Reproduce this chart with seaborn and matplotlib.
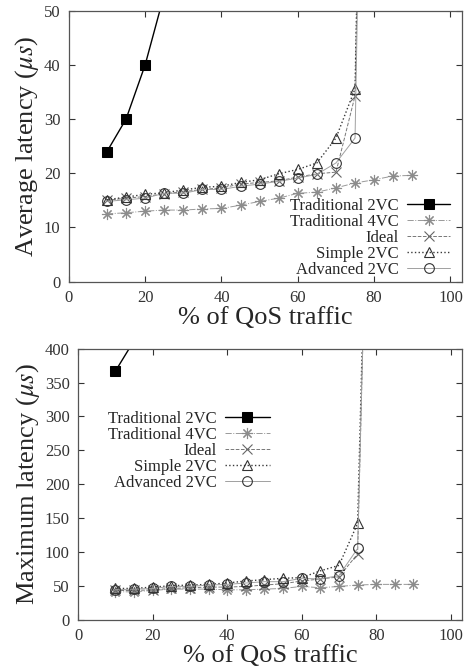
import matplotlib
matplotlib.use("Agg")
import matplotlib.pyplot as plt
import seaborn as sns
import pandas as pd

# ---------------- data ----------------
x_trad2_avg = [10, 15, 20, 25]
x_trad2_max = [10, 15]
x_4vc = [10, 15, 20, 25, 30, 35, 40, 45, 50, 55, 60, 65, 70, 75, 80, 85, 90]
x_main = [10, 15, 20, 25, 30, 35, 40, 45, 50, 55, 60, 65, 70, 75, 80]

avg_trad2 = [24.0, 30.0, 40.0, 53.0]
avg_trad4 = [12.5, 12.7, 13.0, 13.2, 13.2, 13.4, 13.5, 14.1, 14.8, 15.4, 16.3, 16.5, 17.3, 18.2, 18.8, 19.5, 19.6]
avg_ideal = [15.0, 15.4, 15.7, 16.2, 16.6, 17.0, 17.3, 18.0, 18.3, 18.6, 19.3, 19.9, 20.2, 34.3, 220.0]
avg_simple = [15.1, 15.6, 16.1, 16.4, 16.9, 17.4, 17.6, 18.3, 18.8, 19.9, 20.7, 21.9, 26.5, 35.6, 220.0]
avg_adv = [14.8, 15.1, 15.4, 16.3, 16.3, 17.0, 17.0, 17.6, 18.0, 18.5, 19.1, 19.8, 21.9, 26.5, 220.0]

max_trad2 = [367.0, 412.0]
max_trad4 = [41, 41, 43, 45, 45, 45, 44, 44, 45, 46, 49, 47, 49, 51, 52, 52, 52]
max_ideal = [43, 43, 44, 46, 47, 48, 48, 49, 51, 53, 57, 60, 63, 97, 1200]
max_simple = [46, 46, 48, 50, 51, 52, 54, 57, 59, 61, 62, 72, 80, 142, 1200]
max_adv = [44, 45, 46, 49, 49, 51, 52, 54, 56, 56, 61, 60, 65, 105, 1200]

labels = ["Traditional 2VC", "Traditional 4VC", "Ideal", "Simple 2VC", "Advanced 2VC"]

# ---------------- style ----------------
sns.set_style("ticks")
plt.rcParams["font.family"] = ["Liberation Serif", "DejaVu Serif"]
plt.rcParams["mathtext.fontset"] = "stix"

styles = {
    "Traditional 2VC": dict(color="black", linestyle="-", marker="s", markersize=7,
                            mfc="black", mec="black", lw=1.0),
    "Traditional 4VC": dict(color="#999999", linestyle="-.", marker=(8, 2, 0), markersize=8,
                            mec="#8c8c8c", lw=0.7, mew=0.8),
    "Ideal": dict(color="#777777", linestyle="--", marker="x", markersize=7,
                  mec="#666666", lw=0.7, mew=0.8, dashes=(3, 2)),
    "Simple 2VC": dict(color="#3a3a3a", linestyle=":", marker="^", markersize=6.5,
                       mfc="none", mec="#333333", lw=1.0, mew=0.8),
    "Advanced 2VC": dict(color="#a0a0a0", linestyle="-", marker="o", markersize=7,
                         mfc="none", mec="#333333", lw=0.7, mew=0.8),
}


def draw(ax, series):
    for name, xs, ys in series:
        df = pd.DataFrame({"x": xs, "y": ys})
        sns.lineplot(data=df, x="x", y="y", ax=ax, label=name, sort=False,
                     estimator=None, **styles[name])


def fmt(ax, ymax, ystep, ylabel):
    ax.set_xlim(0, 103)
    ax.set_ylim(0, ymax)
    ax.set_xticks(range(0, 101, 20))
    ax.set_yticks(range(0, ymax + 1, ystep))
    ax.tick_params(direction="in", length=4, width=0.8, top=True, right=True,
                   labelsize=12, colors="#333333", pad=6)
    for s in ax.spines.values():
        s.set_visible(True)
        s.set_color("#555555")
        s.set_linewidth(0.9)
    ax.set_xlabel("% of QoS traffic", fontsize=19, labelpad=0.5)
    ax.set_ylabel(ylabel, fontsize=19, labelpad=2)


fig = plt.figure(figsize=(4.68, 6.72), dpi=100)
ax1 = fig.add_axes([0.147, 0.581, 0.840, 0.403])
ax2 = fig.add_axes([0.167, 0.078, 0.820, 0.403])

draw(ax1, [
    ("Traditional 2VC", x_trad2_avg, avg_trad2),
    ("Traditional 4VC", x_4vc, avg_trad4),
    ("Ideal", x_main, avg_ideal),
    ("Simple 2VC", x_main, avg_simple),
    ("Advanced 2VC", x_main, avg_adv),
])
draw(ax2, [
    ("Traditional 2VC", x_trad2_max, max_trad2),
    ("Traditional 4VC", x_4vc, max_trad4),
    ("Ideal", x_main, max_ideal),
    ("Simple 2VC", x_main, max_simple),
    ("Advanced 2VC", x_main, max_adv),
])

fmt(ax1, 50, 10, r"Average latency ($\mu s$)")
fmt(ax2, 400, 50, r"Maximum latency ($\mu s$)")

leg_kw = dict(markerfirst=False, frameon=False, fontsize=12,
              handletextpad=0.5, labelspacing=0.0, borderpad=0.2)
ax1.legend(loc="lower right", bbox_to_anchor=(1.0, -0.03), handlelength=2.6, **leg_kw)
ax2.legend(loc="upper right", bbox_to_anchor=(0.53, 0.815), handlelength=2.7, **leg_kw)

fig.savefig("out.png", dpi=100)
